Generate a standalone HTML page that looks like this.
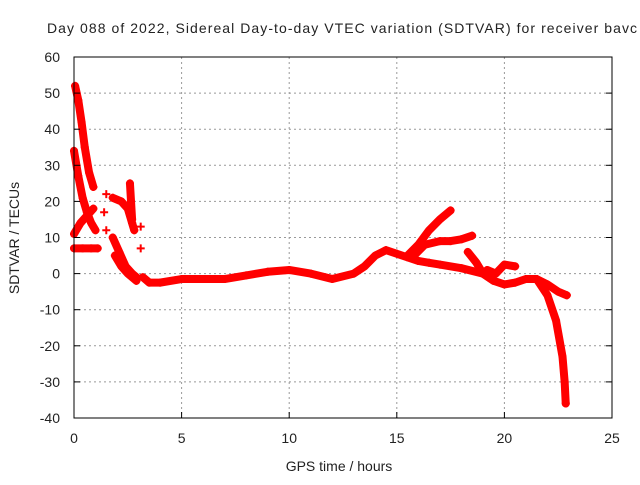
<!DOCTYPE html>
<html><head><meta charset="utf-8"><style>
body{margin:0;background:#fff;overflow:hidden}
svg text{font-family:"Liberation Sans",sans-serif;font-size:14px;fill:#222}
</style></head><body>
<svg id="c" width="640" height="480">
<text x="47" y="33" textLength="590">Day 088 of 2022, Sidereal Day-to-day VTEC variation (SDTVAR) for receiver bavc</text>
<text x="339" y="471" text-anchor="middle">GPS time / hours</text>
<text transform="translate(19,238) rotate(-90)" text-anchor="middle">SDTVAR / TECUs</text>
<g id="grid"></g><g id="marks"></g>
<rect x="74" y="57" width="538" height="361" fill="none" stroke="#000"/>
<g id="ticks"></g>
</svg>
<script>
const xTicks=[0,5,10,15,20,25];
const yTicks=[60,50,40,30,20,10,0,-10,-20,-30,-40];
const s1=[[0.05,52],[0.2,48],[0.35,42],[0.5,35],[0.7,28],[0.9,24]];
const s2=[[0.0,34],[0.2,27],[0.4,21],[0.6,17],[0.8,14],[1.0,12]];
const s3=[[0.0,11],[0.3,14],[0.6,16],[0.9,18]];
const s4=[[0.0,7],[0.4,7],[0.8,7],[1.1,7]];
const s5=[[1.8,10],[2.1,6],[2.4,2],[2.7,0],[2.9,-1]];
const s6=[[1.9,5],[2.2,2],[2.5,0],[2.9,-2]];
const s7=[[1.8,21],[2.2,20],[2.5,18],[2.7,14],[2.8,12]];
const s8=[[2.6,25],[2.65,20],[2.7,15]];
const s9=[[1.5,22],[1.4,17],[1.5,12],[3.1,7],[3.1,13]];
const s10=[[3.2,-1],[3.5,-2.5],[4,-2.5],[5,-1.5],[6,-1.5],[7,-1.5],[8,-0.5],[9,0.5],[10,1],[11,0],[12,-1.5],[13,0],[13.5,2],[14,5],[14.5,6.5],[15,5.5],[15.5,4.5],[16,3.5],[16.5,3],[17,2.5],[18,1.5],[19,0],[19.5,-2],[20,-3],[20.5,-2.5],[21,-1.5],[21.5,-1.5],[22,-3],[22.5,-5],[22.9,-6]];
const s11=[[15.5,5],[16,8],[16.5,12],[17,15],[17.5,17.5]];
const s12=[[15.8,5],[16.3,8],[17,9],[17.5,9],[18,9.5],[18.5,10.5]];
const s13=[[18.3,6],[18.7,3],[19,0],[19.5,-2]];
const s14=[[19.2,1],[19.6,0],[20,2.5],[20.5,2]];
const s15=[[21.5,-1.5],[22,-6],[22.4,-13],[22.7,-23],[22.8,-30],[22.85,-36]];
const series=[s1,s2,s3,s4,s5,s6,s7,s8,s10,s11,s12,s13,s14,s15];
const X=v=>74+v*538/25, Y=v=>418-(v+40)*361/100;
const NS="http://www.w3.org/2000/svg";
const g=document.getElementById('grid'),t=document.getElementById('ticks'),m=document.getElementById('marks');
function mk(p,tag,a){const e=document.createElementNS(NS,tag);for(const k in a)e.setAttribute(k,a[k]);p.appendChild(e);return e;}
xTicks.forEach(v=>{
 if(v>0&&v<25){const l=mk(g,'line',{x1:X(v),x2:X(v),y1:57,y2:418,stroke:'#999','stroke-dasharray':'2,3'});
 
 }
 mk(t,'line',{x1:X(v),x2:X(v),y1:418,y2:412,stroke:'#000'});
 const tx=mk(t,'text',{x:X(v),y:443,'text-anchor':'middle'});tx.textContent=v;
 
 
});
yTicks.forEach(v=>{
 if(v>-40&&v<60){const l=mk(g,'line',{x1:74,x2:612,y1:Y(v),y2:Y(v),stroke:'#999','stroke-dasharray':'2,3'});
 
 }
 mk(t,'line',{x1:74,x2:80,y1:Y(v),y2:Y(v),stroke:'#000'});
 mk(t,'line',{x1:612,x2:606,y1:Y(v),y2:Y(v),stroke:'#000'});
 const tx=mk(t,'text',{x:60,y:Y(v)+5,'text-anchor':'end'});tx.textContent=v;
 
 
});
series.forEach(s=>{
 const pl=mk(m,'polyline',{points:s.map(p=>X(p[0])+','+Y(p[1])).join(' '),fill:'none',stroke:'#f00','stroke-width':8,'stroke-linejoin':'round','stroke-linecap':'round'});
 
 
});
series.concat([s9]).forEach(s=>s.forEach(p=>{
 const x=X(p[0]),y=Y(p[1]);
 const pt=mk(m,'path',{d:`M${x-4},${y}H${x+4}M${x},${y-4}V${y+4}`,stroke:'#f00','stroke-width':2});
 
 
}));
</script>
</body></html>
